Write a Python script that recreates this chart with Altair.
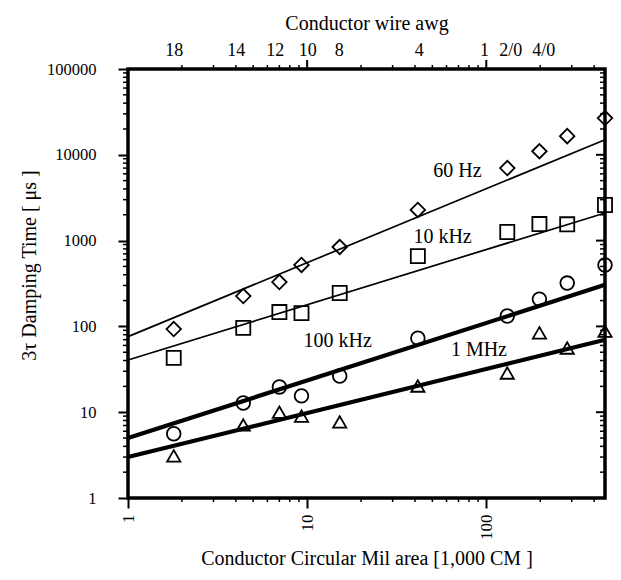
import altair as alt
import pandas as pd

# Series names, plotting symbols and line weights
series = ["60 Hz", "10 kHz", "100 kHz", "1 MHz"]
thin_series = ["60 Hz", "10 kHz"]
thick_series = ["100 kHz", "1 MHz"]

# Measured damping time (3 tau, microseconds) versus conductor area (kCM)
area_kcm = [1.8, 4.4, 7.0, 9.3, 15.2, 41.5, 131, 198, 283, 460]
t_60hz = [93, 226, 329, 520, 842, 2275, 7000, 11000, 16500, 26800]
t_10khz = [43, 96, 147, 143, 245, 660, 1260, 1560, 1550, 2600]
t_100khz = [5.6, 12.8, 19.7, 15.5, 26.4, 73, 132, 208, 320, 520]
t_1mhz = [3.1, 7.1, 10.0, 9.0, 7.7, 20.2, 28.6, 84, 56, 88]

# Fitted power-law lines (end points)
fit_x = [1, 460]
fit_60hz = [76, 15000]
fit_10khz = [40.6, 2100]
fit_100khz = [5.0, 305]
fit_1mhz = [3.0, 70]

# In-plot series labels
label_x = [69, 57, 14.8, 91]
label_y = [6470, 1100, 67.6, 53]

# Wire gauge labels along the top axis, at their area in kCM
awg_names = ["18", "14", "12", "10", "8", "4", "1", "2/0", "4/0"]
awg_kcm = [1.8, 4.0, 6.6, 10, 15, 42, 97, 136, 208]

# Axis ticks
x_major = [1, 10, 100]
y_major = [1, 10, 100, 1000, 10000, 100000]
x_minor = [2, 3, 4, 5, 6, 7, 8, 9, 20, 30, 40, 50, 60, 70, 80, 90, 200, 300, 400]
y_minor = [m * 10 ** k for k in range(5) for m in range(2, 10)]

W, H = 477, 429
FONT = "Liberation Serif"

measured = [t_60hz, t_10khz, t_100khz, t_1mhz]
fits = [fit_60hz, fit_10khz, fit_100khz, fit_1mhz]

pts_df = pd.DataFrame(
    [{"series": s, "cm": x, "t": t} for s, ts in zip(series, measured) for x, t in zip(area_kcm, ts)]
)
fit_df = pd.DataFrame(
    [{"series": s, "cm": x, "t": t} for s, ts in zip(series, fits) for x, t in zip(fit_x, ts)]
)
lab_df = pd.DataFrame({"series": series, "cm": label_x, "t": label_y})
awg_df = pd.DataFrame({"awg": awg_names, "cm": awg_kcm})
xmin_df = pd.DataFrame({"v": x_minor})
ymin_df = pd.DataFrame({"v": y_minor})
ymaj_df = pd.DataFrame({"v": y_major})
xmaj_top_df = pd.DataFrame({"v": x_major[1:]})

xs = alt.Scale(type="log", domain=[1, 460], nice=False)
ys = alt.Scale(type="log", domain=[1, 100000], nice=False)

x_axis = alt.Axis(
    orient="bottom", values=x_major, format="d", labelAngle=270,
    labelFontSize=17, labelPadding=6, tickSize=10, tickWidth=2,
    labelColor="#000000", titleColor="#000000",
    title="Conductor Circular Mil area [1,000 CM ]", titleFontSize=20, titlePadding=9,
)
y_axis = alt.Axis(
    orient="left", values=y_major, format="d", labelFontSize=16.5,
    labelPadding=22, tickSize=10, tickWidth=2,
    labelColor="#000000", titleColor="#000000",
    title="3τ Damping Time [ μs ]", titleFontSize=20, titlePadding=7, titleY=196,
)

# Frame carrying the bottom and left axes
frame = alt.Chart(fit_df).mark_point(opacity=0).encode(
    x=alt.X("cm:Q", scale=xs, axis=x_axis),
    y=alt.Y("t:Q", scale=ys, axis=y_axis),
)

thin_lines = alt.Chart(fit_df).transform_filter(
    alt.FieldOneOfPredicate(field="series", oneOf=thin_series)
).mark_line(color="black", strokeWidth=1.7).encode(
    x=alt.X("cm:Q", scale=xs, axis=None),
    y=alt.Y("t:Q", scale=ys, axis=None),
    detail="series:N",
)
thick_lines = alt.Chart(fit_df).transform_filter(
    alt.FieldOneOfPredicate(field="series", oneOf=thick_series)
).mark_line(color="black", strokeWidth=4.2).encode(
    x=alt.X("cm:Q", scale=xs, axis=None),
    y=alt.Y("t:Q", scale=ys, axis=None),
    detail="series:N",
)

points = alt.Chart(pts_df).mark_point(color="black", filled=False, strokeWidth=1.8, opacity=1).encode(
    x=alt.X("cm:Q", scale=xs, axis=None),
    y=alt.Y("t:Q", scale=ys, axis=None),
    shape=alt.Shape(
        "series:N",
        scale=alt.Scale(domain=series, range=["diamond", "square", "circle", "triangle-up"]),
        legend=None,
    ),
    size=alt.Size(
        "series:O", sort=series,
        scale=alt.Scale(domain=series, range=[210, 175, 145, 155]), legend=None,
    ),
)

labels = alt.Chart(lab_df).mark_text(font=FONT, fontSize=20, color="black").encode(
    x=alt.X("cm:Q", scale=xs, axis=None),
    y=alt.Y("t:Q", scale=ys, axis=None),
    text="series:N",
)

# Top axis carrying the wire gauge names
awg_expr = " : ".join(f"datum.value == {v} ? '{n}'" for v, n in zip(awg_kcm, awg_names)) + " : ''"
awg_axis = alt.Chart(awg_df).mark_point(opacity=0).encode(
    x=alt.X(
        "cm:Q", scale=xs,
        axis=alt.Axis(
            orient="top", values=awg_kcm, labelExpr=awg_expr, ticks=False,
            labelFontSize=18, labelPadding=10, labelAngle=0,
            labelColor="#000000", titleColor="#000000",
            title="Conductor wire awg", titleFontSize=20, titlePadding=8,
        ),
    )
)

# Minor and mirrored ticks around the frame
tick = dict(color="black", strokeWidth=1.5)
left_minor = alt.Chart(ymin_df).mark_rule(**tick).encode(
    y=alt.Y("v:Q", scale=ys, axis=None), x=alt.value(-5), x2=alt.value(0))
right_minor = alt.Chart(ymin_df).mark_rule(**tick).encode(
    y=alt.Y("v:Q", scale=ys, axis=None), x=alt.value(W - 5), x2=alt.value(W))
right_major = alt.Chart(ymaj_df).mark_rule(color="black", strokeWidth=2).encode(
    y=alt.Y("v:Q", scale=ys, axis=None), x=alt.value(W - 9), x2=alt.value(W))
bottom_minor = alt.Chart(xmin_df).mark_rule(**tick).encode(
    x=alt.X("v:Q", scale=xs, axis=None), y=alt.value(H), y2=alt.value(H + 4))
top_minor = alt.Chart(xmin_df).mark_rule(**tick).encode(
    x=alt.X("v:Q", scale=xs, axis=None), y=alt.value(-4), y2=alt.value(0))
top_major = alt.Chart(xmaj_top_df).mark_rule(color="black", strokeWidth=2).encode(
    x=alt.X("v:Q", scale=xs, axis=None), y=alt.value(-9), y2=alt.value(0))

chart = (
    alt.layer(
        frame, thin_lines, thick_lines, points, labels, awg_axis,
        left_minor, right_minor, right_major, bottom_minor, top_minor, top_major,
    )
    .resolve_axis(x="independent", y="independent")
    .properties(
        width=W, height=H,
        autosize=alt.AutoSizeParams(type="none"),
        padding={"left": 128, "top": 69, "right": 16, "bottom": 82},
        background="white",
    )
    .configure_view(stroke="black", strokeWidth=3.5)
    .configure_axis(
        labelFont=FONT, titleFont=FONT, labelColor="black", titleColor="black",
        titleFontWeight="normal", grid=False, domain=False, tickColor="black",
    )
)

chart.save("out.html", embed_options={"renderer": "svg", "actions": False})
